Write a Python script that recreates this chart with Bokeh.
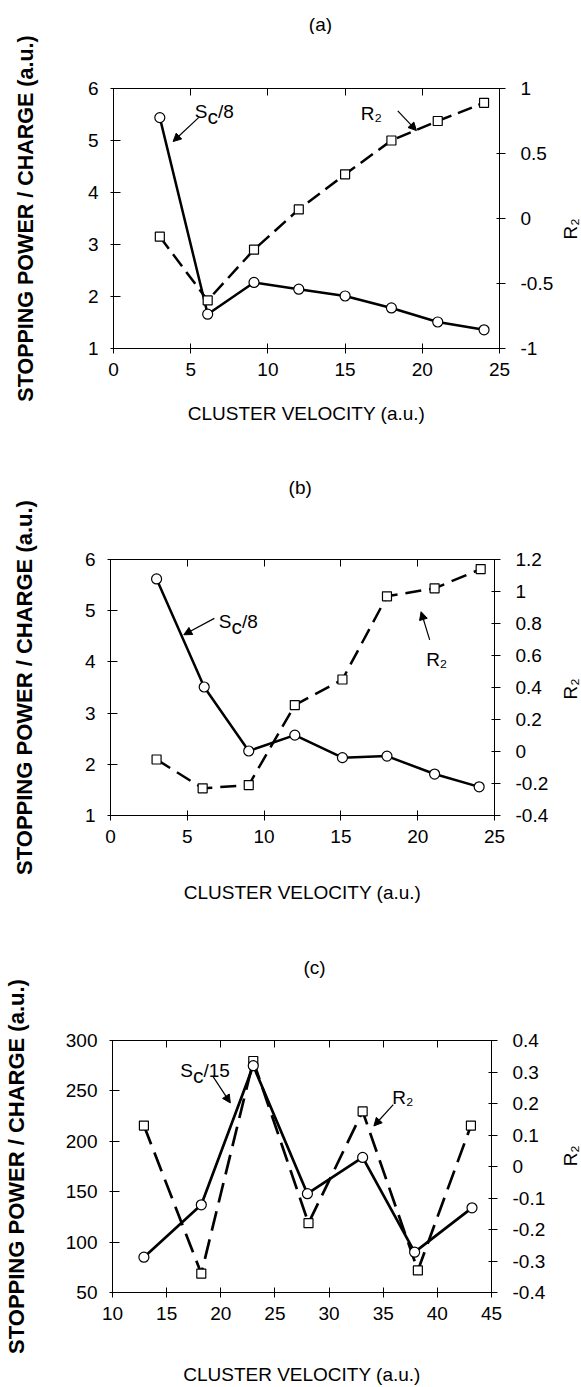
import math
from bokeh.plotting import figure
from bokeh.models import (Range1d, LinearAxis, FixedTicker, CustomJSTickFormatter,
                          Label, Arrow, NormalHead)
from bokeh.layouts import column, row
from bokeh.core.properties import value
from bokeh.embed import file_html
from bokeh.resources import INLINE

FONT = "Liberation Sans"

# ---------------- data ----------------
# panel (a)
a_velocity = [3, 6.1, 9.1, 12, 15, 18, 21, 24]
a_sc = [5.44, 1.66, 2.27, 2.14, 2.01, 1.78, 1.51, 1.36]
a_r2 = [-0.14, -0.63, -0.24, 0.07, 0.34, 0.60, 0.75, 0.89]
a_xticks = [0, 5, 10, 15, 20, 25]
a_lticks = [1, 2, 3, 4, 5, 6]
a_rticks = [-1, -0.5, 0, 0.5, 1]

# panel (b)
b_velocity_sc = [3, 6.1, 9, 12, 15.1, 18, 21.1, 24]
b_sc = [5.62, 3.51, 2.26, 2.57, 2.13, 2.16, 1.81, 1.56]
b_velocity_r2 = [3, 6, 9, 12, 15.1, 18, 21.1, 24.1]
b_r2 = [-0.05, -0.23, -0.21, 0.29, 0.45, 0.97, 1.02, 1.14]
b_xticks = [0, 5, 10, 15, 20, 25]
b_lticks = [1, 2, 3, 4, 5, 6]
b_rticks = [-0.4, -0.2, 0, 0.2, 0.4, 0.6, 0.8, 1, 1.2]

# panel (c)
c_velocity_sc = [12.9, 18.2, 23, 28, 33.1, 37.9, 43.2]
c_sc = [85, 137, 275, 148, 184, 90, 134]
c_velocity_r2 = [12.9, 18.2, 23, 28.1, 33.1, 38.2, 43.1]
c_r2 = [0.13, -0.34, 0.335, -0.18, 0.175, -0.33, 0.13]
c_xticks = [10, 15, 20, 25, 30, 35, 40, 45]
c_lticks = [50, 100, 150, 200, 250, 300]
c_rticks = [-0.4, -0.3, -0.2, -0.1, 0, 0.1, 0.2, 0.3, 0.4]

X_TITLE = "CLUSTER VELOCITY (a.u.)"
Y_TITLE = "STOPPING POWER / CHARGE (a.u.)"
R_TITLE = "R\u2082"

FMT = "return String(tick);"
W = 581
RIGHT_W = 25


def style_axis(ax, ticks, tin, tout, standoff, show_labels=True):
    ax.ticker = FixedTicker(ticks=ticks)
    ax.formatter = CustomJSTickFormatter(code=FMT if show_labels else "return '';")
    ax.major_tick_in = tin
    ax.major_tick_out = tout
    ax.minor_tick_line_color = None
    ax.major_label_standoff = standoff
    ax.major_label_text_font = FONT
    ax.major_label_text_font_size = "19px" if show_labels else "0px"
    ax.major_label_text_color = "black"
    ax.axis_line_color = "black"
    ax.axis_line_width = 1
    ax.major_tick_line_color = "black"
    ax.major_tick_line_width = 1


def label(p, x, y, t, size="19px", xo=0, yo=0):
    p.add_layout(Label(x=x, y=y, text=t, text_font=FONT, text_font_size=size,
                       text_align="left", text_baseline="alphabetic",
                       x_offset=xo, y_offset=yo, text_color="black"))


def arrow(p, xs, ys, xe, ye):
    p.add_layout(Arrow(x_start=xs, y_start=ys, x_end=xe, y_end=ye, line_width=1.2,
                       line_color="black",
                       end=NormalHead(size=8, fill_color="black", line_color="black",
                                      line_width=1)))


def blank_fig(w, h, xr, yr, bl=0, br=0):
    f = figure(width=w, height=h, x_range=Range1d(*xr), y_range=Range1d(*yr),
               x_axis_type=None, y_axis_type=None, output_backend="svg",
               toolbar_location=None, min_border=0,
               min_border_left=bl, min_border_right=br)
    f.outline_line_color = None
    f.background_fill_color = "white"
    f.border_fill_color = "white"
    return f


def make_panel(cfg):
    T = cfg["strip_h"]
    H = cfg["height"] - T
    fr = cfg["frame_right"]
    p = figure(width=W - RIGHT_W, height=H, x_range=Range1d(*cfg["xr"]),
               y_range=Range1d(*cfg["yl"]), x_axis_type=None, y_axis_type=None,
               output_backend="svg", toolbar_location=None,
               min_border_left=cfg["bl"], min_border_right=W - RIGHT_W - fr,
               min_border_top=cfg["bt"] - T, min_border_bottom=cfg["bb"])
    p.outline_line_color = None
    p.background_fill_color = "white"
    p.border_fill_color = "white"
    p.extra_y_ranges = {"r2": Range1d(*cfg["yr"])}

    bottom = LinearAxis()
    style_axis(bottom, cfg["xt"], 5, 5, 9)
    bottom.axis_label = X_TITLE
    bottom.axis_label_text_font = FONT
    bottom.axis_label_text_font_size = "19px"
    bottom.axis_label_text_font_style = "normal"
    bottom.axis_label_text_color = "black"
    bottom.axis_label_standoff = cfg["xl_standoff"]
    p.add_layout(bottom, "below")
    top = LinearAxis()
    style_axis(top, cfg["xt"], 7, 0, 0, show_labels=False)
    p.add_layout(top, "above")
    left = LinearAxis()
    style_axis(left, cfg["lt"], 7, 3, 12)
    left.axis_label = Y_TITLE
    left.axis_label_text_font = FONT
    left.axis_label_text_font_size = cfg["yl_size"]
    left.axis_label_text_font_style = "bold"
    left.axis_label_text_color = "black"
    left.axis_label_standoff = cfg["yl_standoff"]
    p.add_layout(left, "left")
    right = LinearAxis(y_range_name="r2")
    style_axis(right, cfg["rt"], 3, 6, 15)
    p.add_layout(right, "right")

    # R2 series (dashed, squares)
    p.line(cfg["vr"], cfg["r2"], y_range_name="r2", line_color="black",
           line_width=cfg["lw"], line_dash=cfg["dash"])
    # Sc series (solid, circles)
    p.line(cfg["vs"], cfg["sc"], line_color="black", line_width=cfg["lw"])
    p.scatter(cfg["vr"], cfg["r2"], y_range_name="r2", marker="square", size=9,
              fill_color="white", line_color="black", line_width=1.2)
    p.scatter(cfg["vs"], cfg["sc"], marker="circle", size=10, fill_color="white",
              line_color="black", line_width=1.2)

    # Sc annotation
    sx, sy = cfg["sc_text"]
    label(p, sx, sy, "S")
    label(p, sx, sy, "c", size="21px", xo=12.7, yo=-5)
    label(p, sx, sy, cfg["sc_tail"], xo=23.2)
    arrow(p, *cfg["sc_arrow"])
    # R2 annotation
    rx2, ry2 = cfg["r2_text"]
    label(p, rx2, ry2, R_TITLE)
    arrow(p, *cfg["r2_arrow"])

    # title strip above the panel
    ts = blank_fig(W, T, cfg["xr"], (0, T), bl=cfg["bl"], br=W - fr)
    tx, ty = cfg["title_pos"]
    ts.text(x=[tx], y=[ty], text=[cfg["title"]], text_font=value(FONT),
            text_font_size=value("19px"), text_align="center", text_baseline="middle",
            text_color="black")

    # right strip holding the R2 axis title
    rs = blank_fig(RIGHT_W, H, (0, RIGHT_W), cfg["yl"])
    rx, ry = cfg["rtitle_pos"]
    rs.text(x=[rx], y=[ry], text=[R_TITLE], angle=math.pi / 2,
            text_font=value(FONT), text_font_size=value("19px"),
            text_align="center", text_baseline="alphabetic", text_color="black")
    return column(ts, row(p, rs, spacing=0), spacing=0)


cfg_a = dict(height=445, strip_h=34, bl=113, frame_right=500, bt=88, bb=97,
             xr=(0, 25), yl=(1, 6), yr=(-1, 1),
             xt=a_xticks, lt=a_lticks, rt=a_rticks,
             vs=a_velocity, sc=a_sc, vr=a_velocity, r2=a_r2, lw=2.5, dash="15 7",
             title="(a)", title_pos=(13.37, 10.5), xl_standoff=24, yl_standoff=47,
             yl_size="21.5px", rtitle_pos=(14, 3.30),
             sc_text=(5.26, 5.55), sc_tail="/8", sc_arrow=(5.51, 5.44, 3.86, 4.98),
             r2_text=(16.02, 5.51), r2_arrow=(18.41, 5.57, 19.62, 5.19))

cfg_b = dict(height=460, strip_h=54, bl=110, frame_right=494, bt=114, bb=87,
             xr=(0, 25), yl=(1, 6), yr=(-0.4, 1.2),
             xt=b_xticks, lt=b_lticks, rt=b_rticks,
             vs=b_velocity_sc, sc=b_sc, vr=b_velocity_r2, r2=b_r2, lw=2.5, dash="16 8",
             title="(b)", title_pos=(12.35, 12.3), xl_standoff=36, yl_standoff=45,
             yl_size="22px", rtitle_pos=(14, 3.47),
             sc_text=(7.05, 4.78), sc_tail="/8", sc_arrow=(6.76, 4.85, 4.77, 4.53),
             r2_text=(20.55, 4.05), r2_arrow=(20.78, 4.43, 20.22, 4.98))

cfg_c = dict(height=482, strip_h=73, bl=107, frame_right=491, bt=135, bb=91,
             xr=(10, 45), yl=(50, 300), yr=(-0.4, 0.4),
             xt=c_xticks, lt=c_lticks, rt=c_rticks,
             vs=c_velocity_sc, sc=c_sc, vr=c_velocity_r2, r2=c_r2, lw=2.7, dash="20 9",
             title="(c)", title_pos=(28.87, 11.3), xl_standoff=41, yl_standoff=34,
             yl_size="22px", rtitle_pos=(14, 185.6),
             sc_text=(16.25, 270.7), sc_tail="/15", sc_arrow=(19.29, 264.1, 20.88, 238.1),
             r2_text=(35.83, 243.3), r2_arrow=(35.93, 236.4, 34.14, 215.2))

layout = column(make_panel(cfg_a), make_panel(cfg_b), make_panel(cfg_c), spacing=0)
open("out.html", "w").write(file_html(layout, INLINE))
